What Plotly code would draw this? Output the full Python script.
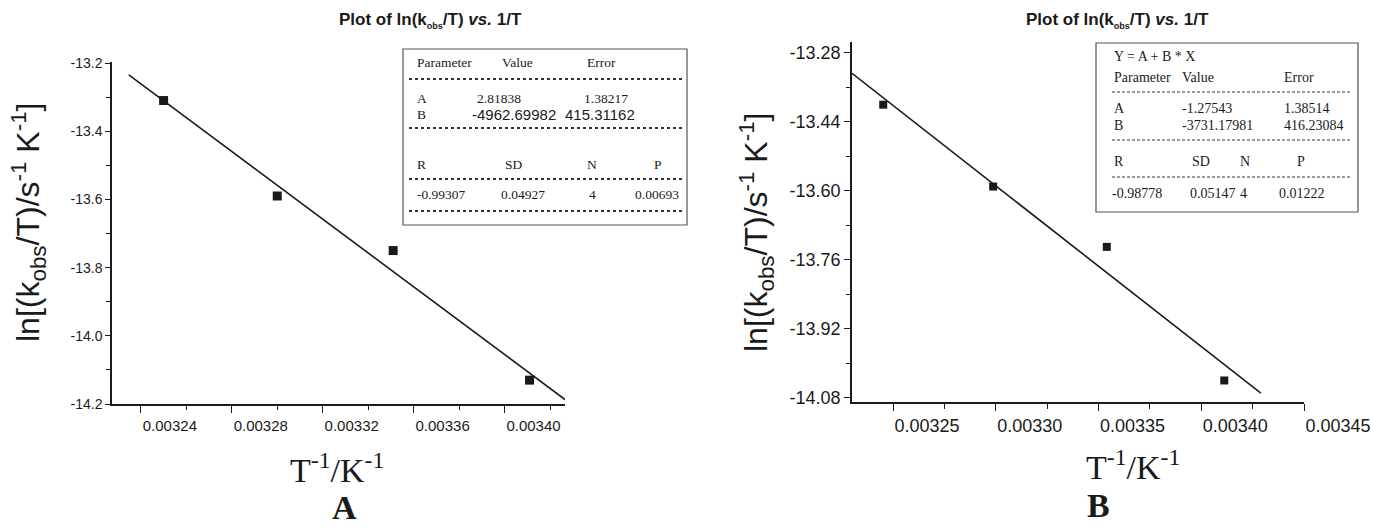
import plotly.graph_objects as go

# ---- Panel A data: ln(k_obs/T) against 1/T ----
inv_T_A = [0.003250, 0.003300, 0.003351, 0.003411]
ln_kT_A = [-13.31, -13.59, -13.75, -14.13]
fit_A_intercept = 2.81838
fit_A_slope = -4962.69982
fit_A_span = [0.0032347, 0.0034266]

# ---- Panel B data ----
inv_T_B = [0.0032452, 0.0032987, 0.0033540, 0.0034112]
ln_kT_B = [-13.40, -13.59, -13.73, -14.04]
fit_B_intercept = -1.27543
fit_B_slope = -3731.17981
fit_B_span = [0.0032300, 0.0034290]

# ---- tick labels ----
y_ticks_A = [-14.2, -14.0, -13.8, -13.6, -13.4, -13.2]
y_labels_A = ["-14.2", "-14.0", "-13.8", "-13.6", "-13.4", "-13.2"]
x_ticks_A = [0.00324, 0.00328, 0.00332, 0.00336, 0.00340]
x_labels_A = ["0.00324", "0.00328", "0.00332", "0.00336", "0.00340"]
y_ticks_B = [-14.08, -13.92, -13.76, -13.60, -13.44, -13.28]
y_labels_B = ["-14.08", "-13.92", "-13.76", "-13.60", "-13.44", "-13.28"]
x_ticks_B = [0.00325, 0.00330, 0.00335, 0.00340, 0.00345]
x_labels_B = ["0.00325", "0.00330", "0.00335", "0.00340", "0.00345"]

# ---- regression summaries ----
table_A_head = ["Parameter", "Value", "Error"]
table_A_rowA = ["A", "2.81838", "1.38217"]
table_A_rowB = ["B", "-4962.69982", "415.31162"]
table_A_stats_head = ["R", "SD", "N", "P"]
table_A_stats = ["-0.99307", "0.04927", "4", "0.00693"]

table_B_eq = "Y = A + B * X"
table_B_head = ["Parameter", "Value", "Error"]
table_B_rowA = ["A", "-1.27543", "1.38514"]
table_B_rowB = ["B", "-3731.17981", "416.23084"]
table_B_stats_head = ["R", "SD", "N", "P"]
table_B_stats = ["-0.98778", "0.05147", "4", "0.01222"]

W, H = 1374, 529
INK = "#1a1a1a"
SANS = "Liberation Sans, Arial, sans-serif"
SERIF = "Liberation Serif, Times New Roman, serif"


def px(x):
    return x / W


def py(y):
    return 1 - y / H


fig = go.Figure()

# panel A marks
fig.add_trace(go.Scatter(x=inv_T_A, y=ln_kT_A, mode="markers",
                         marker=dict(symbol="square", size=9, color=INK),
                         xaxis="x", yaxis="y", showlegend=False))
fig.add_trace(go.Scatter(x=fit_A_span,
                         y=[fit_A_intercept + fit_A_slope * v for v in fit_A_span],
                         mode="lines", line=dict(color=INK, width=1.6),
                         xaxis="x", yaxis="y", showlegend=False))

# panel B marks
fig.add_trace(go.Scatter(x=inv_T_B, y=ln_kT_B, mode="markers",
                         marker=dict(symbol="square", size=8, color=INK),
                         xaxis="x2", yaxis="y2", showlegend=False))
fig.add_trace(go.Scatter(x=fit_B_span,
                         y=[fit_B_intercept + fit_B_slope * v for v in fit_B_span],
                         mode="lines", line=dict(color=INK, width=1.6),
                         xaxis="x2", yaxis="y2", showlegend=False))


def axis_style(size):
    # automargin off: the panel geometry is fixed by the domains below
    return dict(showline=True, linecolor=INK, linewidth=1.5, ticks="outside",
                tickcolor=INK, tickwidth=1.3, showgrid=False, zeroline=False,
                automargin=False,
                tickfont=dict(family=SANS, size=size, color=INK))


fig.update_layout(
    width=W, height=H, margin=dict(l=0, r=0, t=0, b=0, pad=0, autoexpand=False),
    paper_bgcolor="white", plot_bgcolor="white",
    xaxis=dict(domain=[px(112), px(565)], range=[0.0032273, 0.0034266], anchor="y",
               tickvals=x_ticks_A, ticktext=x_labels_A, ticklen=7, ticklabelshift=29,
               minor=dict(ticks="outside", ticklen=4, tickcolor=INK, tickwidth=1.3,
                          tick0=0.00322, dtick=0.00002),
               **axis_style(15)),
    yaxis=dict(domain=[py(404), py(62)], range=[-14.2, -13.197], anchor="x",
               tickvals=y_ticks_A, ticktext=y_labels_A, ticklen=5,
               minor=dict(ticks="outside", ticklen=4, tickcolor=INK, tickwidth=1.3,
                          tick0=-14.2, dtick=0.1),
               **axis_style(14)),
    xaxis2=dict(domain=[px(852), px(1304)], range=[0.00323, 0.00345], anchor="y2",
                tickvals=x_ticks_B, ticktext=x_labels_B, ticklen=7, ticklabelshift=34,
                minor=dict(ticks="outside", ticklen=5, tickcolor=INK, tickwidth=1.3,
                           tick0=0.003225, dtick=0.000025),
                **axis_style(18)),
    yaxis2=dict(domain=[py(402), py(42)], range=[-14.090, -13.2545], anchor="x2",
                tickvals=y_ticks_B, ticktext=y_labels_B, ticklen=6,
                minor=dict(ticks="outside", ticklen=4, tickcolor=INK, tickwidth=1.3,
                           tick0=-14.08, dtick=0.08),
                **axis_style(18)),
)

annotations = []
shapes = []


def text(x, y, s, size, family=SANS, anchor="left", angle=0, color=INK):
    annotations.append(dict(x=px(x), y=py(y), xref="paper", yref="paper", text=s,
                            showarrow=False, xanchor=anchor, yanchor="middle",
                            textangle=angle, font=dict(family=family, size=size, color=color)))


title = "<b>Plot of ln(k<sub><span style='font-size:9px'>obs</span></sub>/T) <i>vs.</i> 1/T</b>"
text(430, 20, title, 17, anchor="center")
text(1117, 20, title, 17, anchor="center")

ytitle = "ln[(k<sub>obs</sub>/T)/s<sup>-1</sup> K<sup>-1</sup>]"
text(28, 222, ytitle, 32, anchor="center", angle=-90)
text(757, 232, ytitle, 32, anchor="center", angle=-90)

xtitle = "T<sup>-1</sup>/K<sup>-1</sup>"
text(337, 468, xtitle, 34, family=SERIF, anchor="center")
text(1133, 465, xtitle, 34, family=SERIF, anchor="center")

text(345, 507, "<b>A</b>", 34, family=SERIF, anchor="center")
text(1098, 505, "<b>B</b>", 34, family=SERIF, anchor="center")

# ---- summary box, panel A ----
shapes.append(dict(type="rect", xref="paper", yref="paper", x0=px(403), x1=px(687),
                   y0=py(225), y1=py(49), line=dict(color="#555", width=1.2)))
for yl in (79, 128, 179, 211):
    shapes.append(dict(type="line", xref="paper", yref="paper", x0=px(409), x1=px(683),
                       y0=py(yl), y1=py(yl), line=dict(color="#333", width=2, dash="dot")))
fsA = 13.5
for s, x in zip(table_A_head, (415, 500, 585)):
    text(x, 62, s, fsA, family=SERIF)
for s, x in zip(table_A_rowA, (415, 475, 582)):
    text(x, 98, s, fsA, family=SERIF)
text(415, 115, table_A_rowB[0], fsA, family=SERIF)
text(470, 115, table_A_rowB[1], 15)
text(563, 115, table_A_rowB[2], 15)
for s, x in zip(table_A_stats_head, (415, 503, 585, 652)):
    text(x, 164, s, fsA, family=SERIF)
for s, x in zip(table_A_stats, (415, 499, 587, 633)):
    text(x, 195, s, fsA, family=SERIF)

# ---- summary box, panel B ----
shapes.append(dict(type="rect", xref="paper", yref="paper", x0=px(1096), x1=px(1358),
                   y0=py(212), y1=py(43), line=dict(color="#555", width=1.2)))
for yl in (92, 140, 177):
    shapes.append(dict(type="line", xref="paper", yref="paper", x0=px(1112), x1=px(1352),
                       y0=py(yl), y1=py(yl), line=dict(color="#333", width=1, dash="3px,2px")))
fsB = 14
text(1112, 56, table_B_eq, fsB, family=SERIF)
for s, x in zip(table_B_head, (1112, 1180, 1282)):
    text(x, 77, s, fsB, family=SERIF)
for s, x in zip(table_B_rowA, (1112, 1180, 1282)):
    text(x, 109, s, fsB, family=SERIF)
for s, x in zip(table_B_rowB, (1112, 1180, 1282)):
    text(x, 125, s, fsB, family=SERIF)
for s, x in zip(table_B_stats_head, (1112, 1190, 1238, 1295)):
    text(x, 161, s, fsB, family=SERIF)
for s, x in zip(table_B_stats, (1110, 1188, 1238, 1277)):
    text(x, 194, s, fsB, family=SERIF)

fig.update_layout(annotations=annotations, shapes=shapes)
fig.write_html("out.html")
